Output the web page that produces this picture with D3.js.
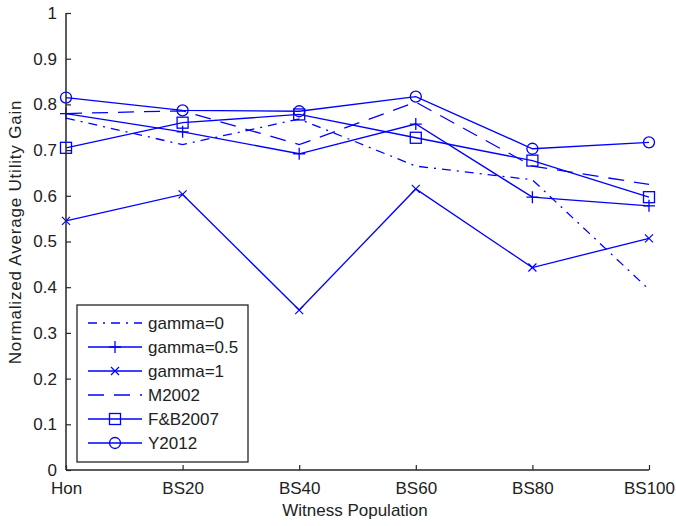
<!DOCTYPE html>
<html><head><meta charset="utf-8">
<script src="https://cdn.jsdelivr.net/npm/d3@7"></script>
<style>body{margin:0;background:#fff}svg{display:block}text{font-family:"Liberation Sans",Arial,sans-serif;fill:#222}</style>
</head><body><svg id="c" width="676" height="526"></svg>
<script>
const categories = ["Hon","BS20","BS40","BS60","BS80","BS100"];
const gamma0   = [0.770,0.712,0.768,0.665,0.635,0.395];
const gamma05  = [0.780,0.740,0.692,0.757,0.597,0.578];
const gamma1   = [0.545,0.603,0.350,0.615,0.443,0.507];
const m2002    = [0.780,0.786,0.712,0.805,0.665,0.625];
const fb2007   = [0.705,0.760,0.778,0.727,0.677,0.597];
const y2012    = [0.815,0.787,0.785,0.817,0.703,0.717];
const yTicks = [0,0.1,0.2,0.3,0.4,0.5,0.6,0.7,0.8,0.9,1];
const series = [
  {name:"gamma=0", values:gamma0, dash:"9,6,2,6", marker:null},
  {name:"gamma=0.5", values:gamma05, dash:null, marker:"plus"},
  {name:"gamma=1", values:gamma1, dash:null, marker:"x"},
  {name:"M2002", values:m2002, dash:"16,10", marker:null},
  {name:"F&B2007", values:fb2007, dash:null, marker:"square"},
  {name:"Y2012", values:y2012, dash:null, marker:"circle"}
];
const blue="#0000ff", axisC="#262626";
const svg=d3.select("#c");
const x=d3.scalePoint().domain(categories).range([66,649]);
const y=d3.scaleLinear().domain([0,1]).range([470,13]);
const fs=17;

function drawMarker(g,type,cx,cy){
  if(type==="plus"){
    g.append("path").attr("d",`M${cx-6},${cy}H${cx+6}M${cx},${cy-6}V${cy+6}`).attr("stroke",blue).attr("stroke-width",1.3).attr("fill","none");
  } else if(type==="x"){
    g.append("path").attr("d",`M${cx-4},${cy-4}L${cx+4},${cy+4}M${cx-4},${cy+4}L${cx+4},${cy-4}`).attr("stroke",blue).attr("stroke-width",1.2).attr("fill","none");
  } else if(type==="square"){
    g.append("rect").attr("x",cx-5.5).attr("y",cy-5.5).attr("width",11).attr("height",11).attr("stroke",blue).attr("stroke-width",1.3).attr("fill","none");
  } else if(type==="circle"){
    g.append("circle").attr("cx",cx).attr("cy",cy).attr("r",5.5).attr("stroke",blue).attr("stroke-width",1.3).attr("fill","none");
  }
}

const line=d3.line().x((d,i)=>x(categories[i])).y(d=>y(d));
const plot=svg.append("g");
series.forEach(s=>{
  plot.append("path").datum(s.values).attr("d",line).attr("fill","none").attr("stroke",blue)
    .attr("stroke-width",1.3).attr("stroke-dasharray",s.dash);
  if(s.marker) s.values.forEach((v,i)=>drawMarker(plot,s.marker,x(categories[i]),y(v)));
});

// axes
const yAxis=svg.append("g").attr("transform","translate(66,0)")
  .call(d3.axisLeft(y).tickValues(yTicks).tickSize(-5).tickPadding(9).tickFormat(d3.format("~g")));
const xAxis=svg.append("g").attr("transform","translate(0,470)")
  .call(d3.axisBottom(x).tickSize(-5).tickPadding(9));
[yAxis,xAxis].forEach(a=>{
  a.select(".domain").attr("stroke",axisC).attr("stroke-width",1.5);
  a.selectAll(".tick line").attr("stroke",axisC).attr("stroke-width",1.2);
  a.selectAll(".tick text").attr("font-size",fs).attr("fill","#222").attr("font-family","Liberation Sans, Arial, sans-serif");
});
yAxis.select(".domain").attr("d","M0,470V13");
xAxis.select(".domain").attr("d","M66,0H649");
xAxis.selectAll(".tick text").attr("dy","0.9em");

// axis labels
svg.append("text").attr("x",355).attr("y",516).attr("text-anchor","middle").attr("font-size",fs).text("Witness Population");
svg.append("text").attr("transform","translate(21,232) rotate(-90)").attr("text-anchor","middle").attr("font-size",fs).attr("letter-spacing","0.8px").text("Normalized Average Utility Gain");

// legend
const lg=svg.append("g");
lg.append("rect").attr("x",77).attr("y",305).attr("width",171).attr("height",157).attr("fill","#fff").attr("stroke",axisC).attr("stroke-width",1.3);
series.forEach((s,i)=>{
  const cy=323+i*24;
  lg.append("line").attr("x1",88).attr("x2",142).attr("y1",cy).attr("y2",cy).attr("stroke",blue).attr("stroke-width",1.3).attr("stroke-dasharray",s.dash);
  if(s.marker) drawMarker(lg,s.marker,115,cy);
  lg.append("text").attr("x",148).attr("y",cy).attr("dy","0.35em").attr("font-size",fs).text(s.name);
});
</script></body></html>
